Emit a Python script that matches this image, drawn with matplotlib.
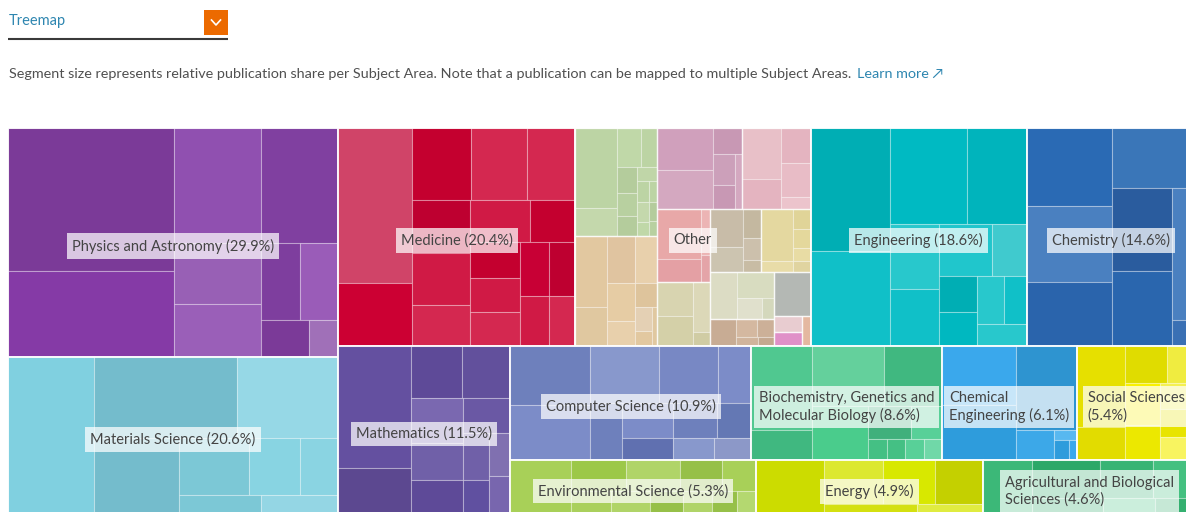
import matplotlib
matplotlib.use("Agg")
import matplotlib.pyplot as plt
from matplotlib.patches import Rectangle

plt.rcParams['font.family'] = ['Lato', 'DejaVu Sans']

# ---------------- data ----------------
subject_areas = ["Physics and Astronomy", "Materials Science", "Medicine", "Other",
                 "Engineering", "Chemistry", "Mathematics", "Computer Science",
                 "Biochemistry, Genetics and Molecular Biology", "Chemical Engineering",
                 "Social Sciences", "Environmental Science", "Energy",
                 "Agricultural and Biological Sciences"]
shares = [29.9, 20.6, 20.4, 20.3, 18.6, 14.6, 11.5, 10.9, 8.6, 6.1, 5.4, 5.3, 4.9, 4.6]
share_shown = [True, True, True, False, True, True, True, True, True, True, True, True, True, True]

physics_cells = [237, 143, 99, 89, 52, 46, 30, 29, 18, 11]
materials_cells = [135, 114, 81, 65, 40, 29, 22, 16, 15]
medicine_cells = [115, 47, 43, 40, 35, 31, 30, 24, 25, 19, 18, 17, 17, 16, 14, 15, 13]
engineering_cells = [99, 76, 74, 58, 32, 28, 28, 18, 14, 13, 13, 11, 11]
chemistry_cells = [66, 65, 54, 50, 50, 45, 31, 6]
mathematics_cells = [88, 34, 26, 25, 23, 19, 18, 16, 12, 9, 9, 8]
computer_cells = [46, 43, 39, 33, 19, 18, 18, 15, 12, 11, 9, 8]
biochem_cells = [49, 18, 41, 33, 29, 14, 10, 4, 3.5, 4, 3.5]
chemeng_cells = [43.5, 41, 50, 11.4, 2.2, 3.2, 1.5]
social_cells = [37.6, 15.5, 15, 10.4, 14, 12, 9, 7, 6, 5]
environmental_cells = [32, 16.2, 15.6, 12.3, 10, 9.4, 9.1, 7.7, 6.7, 6, 4.3]
energy_cells = [37, 26, 23, 21, 10, 7]
agricultural_cells = [27, 25, 20, 16, 12, 9, 7]

# "Other" is itself split into smaller subject areas, each with its own cells
other_green = [332, 115, 94, 62, 52, 48, 40, 28, 26, 24, 18, 17, 15, 12]
other_tan = [227, 125, 127, 103, 103, 68, 53, 41, 26, 20]
other_mauve = [231, 220, 75, 70, 53, 39]
other_pink = [194, 118, 105, 100, 36]
other_salmon = [215, 99, 41, 25]
other_khaki = [122, 108, 80, 22]
other_greytan = [125, 83, 52, 40, 22]
other_yellow = [166, 35, 34, 31, 22, 20]
other_greygreen = [129, 93, 53, 26]
other_brown = [70, 36, 30, 20, 15]
other_grey = [158]
other_lightpink = [43]
other_magenta = [38]
other_peach = [27]

header_title = "Treemap"
subtitle = ("Segment size represents relative publication share per Subject Area. "
            "Note that a publication can be mapped to multiple Subject Areas.")
learn_more = "Learn more \u2197"

# ---------------- styles ----------------
palettes = {
    "Physics and Astronomy": ["#7B3A98", "#853AA6", "#9050B0", "#8040A0", "#9860B5", "#9A5FB8",
                              "#7E3E9E", "#9A5CB8", "#7B3A98", "#A070B8"],
    "Materials Science": ["#80D0E0", "#74BCCC", "#96D8E6", "#74BCCC", "#7CC8D6", "#88D4E2",
                          "#8AD4E2", "#7CC8D6", "#94D6E4"],
    "Medicine": ["#D04468", "#CC0033", "#C4002F", "#D42850", "#D42850", "#BE0030", "#D01A45",
                 "#D42850", "#D01A45", "#C4002F", "#C4002F", "#D01A45", "#D42850", "#C80035",
                 "#BE0030", "#D01A45", "#D42850"],
    "Engineering": ["#00AEB4", "#10C0C8", "#00BAC2", "#00B4BC", "#28C8CC", "#10C0C8", "#20C6CC",
                    "#40CACE", "#00AEB4", "#00B8C0", "#28C8CC", "#10C0C8", "#28C8CC"],
    "Chemistry": ["#2A6AB4", "#4A80C0", "#2A64AC", "#3A76B8", "#2A5C9E", "#2A66AE", "#4A80C0",
                  "#3A70B4"],
    "Mathematics": ["#6450A0", "#5C4890", "#5E4A98", "#62509C", "#7A68B0", "#7060A8", "#5E4A98",
                    "#6A58A4", "#7060A8", "#6050A0", "#8070B0", "#7866AE"],
    "Computer Science": ["#6E80BC", "#7C8CC8", "#8898CC", "#7888C4", "#7C8CC8", "#6E80BC",
                         "#7C8CC8", "#6E80BC", "#6478B4", "#6070B0", "#8898CC", "#8C98C8"],
    "Biochemistry, Genetics and Molecular Biology": ["#50C890", "#40B880", "#64D09C", "#40B880",
                                                     "#4ACC8C", "#40B07C", "#58D098", "#44C084",
                                                     "#44C084", "#58D098", "#70D8A8"],
    "Chemical Engineering": ["#3AA8EC", "#2E9CDC", "#2E94D0", "#3CA8E8", "#58B8F0", "#2E9CDC",
                             "#3AA8EC"],
    "Social Sciences": ["#E6E000", "#E2DC00", "#E0DC00", "#F0EC40", "#F8F000", "#ECE800",
                        "#F4F050", "#E8E400", "#F8F460", "#F0EC30"],
    "Environmental Science": ["#A8D058", "#9CC848", "#B0D468", "#96C048", "#A8D058", "#AAD05C",
                              "#B0D468", "#96C048", "#B0D468", "#96C048", "#B4D870"],
    "Energy": ["#CCDC00", "#DCE830", "#D8E800", "#C4D000", "#D4E010", "#E0EC40"],
    "Agricultural and Biological Sciences": ["#3CB878", "#2CA868", "#38B474", "#44C080",
                                             "#30AC6C", "#48C484", "#34B070"],
}
other_palettes = [
    ["#BCD4A4", "#C4D8AC", "#C0D8A8", "#BCD4A4", "#B4CC9C", "#B8D0A0", "#B4CC9C", "#C0D6A8"],
    ["#E2C8A0", "#E0C8A0", "#E0C4A0", "#E8D0AC", "#E6CCA4", "#E8D0AC", "#DEC49C", "#E4D0B4"],
    ["#D0A0BC", "#D4A8C0", "#C898B4", "#CCA0BA", "#C898B4", "#D4A8C0"],
    ["#E8C0C8", "#E4B4C0", "#E4B4C0", "#E8BCC6", "#ECC4CC"],
    ["#E8A8A8", "#E4A0A4", "#ECB4B4", "#E4A4A8"],
    ["#D8D4B0", "#D4D0A8", "#DCD8B8", "#D0CCA4"],
    ["#C8BCA8", "#CCC4B0", "#C4B8A0", "#CCC0AC", "#C8BCA4"],
    ["#E4D8A0", "#E8DCA8", "#E0D498", "#E4D89C", "#E8DCA4", "#E0D4A0"],
    ["#DCDCC4", "#D8DCC0", "#E0E0CC", "#D4D8BC"],
    ["#C8AC94", "#D4B8A0", "#CCB098", "#D0B49C", "#C4A890"],
    ["#B4B8B4"], ["#E8CCD0"], ["#E090C8"], ["#E4B8A0"],
]

area_cells = {
    "Physics and Astronomy": physics_cells,
    "Materials Science": materials_cells,
    "Medicine": medicine_cells,
    "Engineering": engineering_cells,
    "Chemistry": chemistry_cells,
    "Mathematics": mathematics_cells,
    "Computer Science": computer_cells,
    "Biochemistry, Genetics and Molecular Biology": biochem_cells,
    "Chemical Engineering": chemeng_cells,
    "Social Sciences": social_cells,
    "Environmental Science": environmental_cells,
    "Energy": energy_cells,
    "Agricultural and Biological Sciences": agricultural_cells,
}
other_groups = [other_green, other_tan, other_mauve, other_pink, other_salmon, other_khaki,
                other_greytan, other_yellow, other_greygreen, other_brown, other_grey,
                other_lightpink, other_magenta, other_peach]


# ---------------- layout (squarified, alternating direction) ----------------
def squarify_alt(weights, x, y, w, h):
    total = float(sum(weights))
    areas = [wt / total * w * h for wt in weights]

    def ar(a, b):
        return max(a / b, b / a)

    def place(group, d, rx, ry, rw, rh):
        s = sum(group)
        out = []
        if d == 0:
            cw = s / rh
            yy = ry
            for a in group:
                hh = a / cw
                out.append((rx, yy, cw, hh))
                yy += hh
            return out, (rx + cw, ry, rw - cw, rh)
        rhh = s / rw
        xx = rx
        for a in group:
            ww = a / rhh
            out.append((xx, ry, ww, rhh))
            xx += ww
        return out, (rx, ry + rhh, rw, rh - rhh)

    rects = []
    rx, ry, rw, rh = x, y, w, h
    d = 0
    group = []
    for a in areas:
        if group:
            s_old = sum(group)
            last = group[-1]
            side = rh if d == 0 else rw
            t_old = s_old / side
            t_new = (s_old + a) / side
            if ar(t_new, last / t_new) > ar(t_old, last / t_old):
                out, (rx, ry, rw, rh) = place(group, d, rx, ry, rw, rh)
                rects += out
                d = 1 - d
                group = []
        group.append(a)
    out, _ = place(group, d, rx, ry, rw, rh)
    rects += out
    return rects


# ---------------- figure ----------------
W_PX, H_PX = 1186, 512
fig = plt.figure(figsize=(W_PX / 100, H_PX / 100), dpi=100)
ax = fig.add_axes([0, 0, 1, 1])
ax.set_xlim(0, W_PX)
ax.set_ylim(H_PX, 0)
ax.axis('off')
renderer = fig.canvas.get_renderer()

# header
ax.text(9, 21, header_title, fontsize=10.5, color="#2E86B0", ha='left', va='center')
ax.plot([8, 228], [39, 39], color="#3A3A3A", lw=1.5, solid_capstyle='butt')
ax.add_patch(Rectangle((204, 10), 24, 25, fc="#EC6A00", ec='none'))
ax.plot([211.5, 216, 220.5], [20, 25, 20], color='white', lw=1.2)
t_sub = ax.text(9, 74, subtitle, fontsize=10.4, color="#505050", ha='left', va='center')
ax.annotate(learn_more, xy=(1, 0.5), xycoords=t_sub, xytext=(4, 0),
            textcoords='offset points', ha='left', va='center', fontsize=10.4,
            color="#2E86B0")

# treemap
TX, TY, TW, TH = 8, 128, 1188, 387
LABEL_FS = 10.5
LABEL_DY = 3.5
top_rects = squarify_alt(shares, TX, TY, TW, TH)

leaf_edge = (1, 1, 1, 0.28)


def draw_cells(weights, colors, rect):
    rects = squarify_alt(weights, *rect)
    for i, (x, y, w, h) in enumerate(rects):
        ax.add_patch(Rectangle((x, y), w, h, fc=colors[i % len(colors)], ec=leaf_edge, lw=0.8))


def text_width(s):
    t = ax.text(0, 0, s, fontsize=LABEL_FS)
    wpx = t.get_window_extent(renderer=renderer).width
    t.remove()
    return wpx


def wrap_label(s, max_w):
    words = s.split(' ')
    lines = [words[0]]
    for wd in words[1:]:
        cand = lines[-1] + ' ' + wd
        if text_width(cand) <= max_w:
            lines[-1] = cand
        else:
            lines.append(wd)
    return '\n'.join(lines)


for name, share, shown, (x, y, w, h) in zip(subject_areas, shares, share_shown, top_rects):
    if name == "Other":
        grects = squarify_alt([sum(g) for g in other_groups], x, y, w, h)
        for g, pal, gr in zip(other_groups, other_palettes, grects):
            draw_cells(g, pal, gr)
        for (gx, gy, gw, gh) in grects:
            ax.add_patch(Rectangle((gx, gy), gw, gh, fc='none', ec=(1, 1, 1, 0.55), lw=1.0))
    else:
        draw_cells(area_cells[name], palettes[name], (x, y, w, h))
    ax.add_patch(Rectangle((x, y), w, h, fc='none', ec=(1, 1, 1, 0.8), lw=1.4))

for name, share, shown, (x, y, w, h) in zip(subject_areas, shares, share_shown, top_rects):
    label = f"{name} ({share}%)" if shown else name
    label = wrap_label(label, w - 14)
    ax.text(x + w / 2, y + h / 2 + LABEL_DY, label, fontsize=LABEL_FS, color="#444444",
            ha='center', va='center', multialignment='left', linespacing=1.25,
            bbox=dict(boxstyle='square,pad=0.35', fc='white', ec='none', alpha=0.72))

fig.savefig("out.png", dpi=100)
